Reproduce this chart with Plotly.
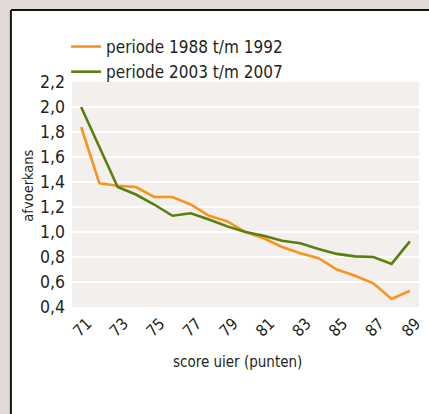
import plotly.graph_objects as go

scores = [str(s) for s in range(71, 90)]
periode_1988_1992 = [1.84, 1.39, 1.37, 1.36, 1.28, 1.28, 1.22, 1.13, 1.085, 1.0,
                     0.95, 0.88, 0.83, 0.79, 0.70, 0.65, 0.59, 0.465, 0.53]
periode_2003_2007 = [2.0, 1.68, 1.36, 1.30, 1.22, 1.13, 1.15, 1.10, 1.045, 1.0,
                     0.97, 0.93, 0.91, 0.865, 0.825, 0.805, 0.80, 0.745, 0.925]
series_names = ["periode 1988 t/m 1992", "periode 2003 t/m 2007"]
tick_labels = [str(s) for s in range(71, 90, 2)]
y_ticks = [0.4, 0.6, 0.8, 1.0, 1.2, 1.4, 1.6, 1.8, 2.0, 2.2]

FONT = "Liberation Sans Narrow, DejaVu Sans Condensed, Arial Narrow, sans-serif"
ORANGE = "#f7941d"
GREEN = "#5a7f0f"
TXT = "#231f20"

W, H = 429, 414
ML, MT = 72, 82
PW, PH = 352, 225
MR = W - ML - PW
MB = H - MT - PH

def px_x(px):
    return (px - ML) / PW

def px_y(py):
    return (MT + PH - py) / PH

fig = go.Figure()
fig.add_trace(go.Scatter(x=scores, y=periode_1988_1992, mode="lines", name=series_names[0],
                         line=dict(color=ORANGE, width=2.6)))
fig.add_trace(go.Scatter(x=scores, y=periode_2003_2007, mode="lines", name=series_names[1],
                         line=dict(color=GREEN, width=2.6)))

BG_OUT = "#e0d9d7"
shapes = [
    dict(type="rect", xref="paper", yref="paper", x0=-0.5, x1=1.5, y0=px_y(9), y1=2.0,
         fillcolor=BG_OUT, line=dict(width=0), layer="below"),
    dict(type="rect", xref="paper", yref="paper", x0=-0.5, x1=px_x(9), y0=-1.0, y1=2.0,
         fillcolor=BG_OUT, line=dict(width=0), layer="below"),
    dict(type="line", xref="paper", yref="paper", x0=px_x(10), x1=1.5, y0=px_y(10), y1=px_y(10),
         line=dict(color="#111111", width=2)),
    dict(type="line", xref="paper", yref="paper", x0=px_x(10), x1=px_x(10), y0=px_y(10), y1=-1.0,
         line=dict(color="#111111", width=2)),
]

annotations = [
    dict(text="afvoerkans", xref="paper", yref="paper", x=px_x(27), y=px_y(186),
         showarrow=False, textangle=-90, font=dict(family=FONT, size=14.5, color=TXT),
         xanchor="center", yanchor="middle"),
    dict(text="score uier (punten)", xref="paper", yref="paper", x=px_x(240), y=px_y(362),
         showarrow=False, font=dict(family=FONT, size=15, color=TXT),
         xanchor="center", yanchor="middle"),
]

fig.update_layout(
    width=W, height=H,
    margin=dict(l=ML, r=MR, t=MT, b=MB, pad=0),
    paper_bgcolor="white",
    plot_bgcolor="#f2efec",
    separators=",.",
    font=dict(family=FONT, size=17.5, color=TXT),
    shapes=shapes,
    annotations=annotations,
    showlegend=True,
    legend=dict(x=px_x(66), y=px_y(29), xanchor="left", yanchor="top",
                bgcolor="rgba(0,0,0,0)", font=dict(family=FONT, size=17, color=TXT),
                tracegroupgap=0, itemwidth=30),
    xaxis=dict(type="category", categoryorder="array", categoryarray=scores,
               range=[-0.5, len(scores) - 0.5], tickmode="array", tickvals=tick_labels,
               ticktext=tick_labels, tickangle=-45, showgrid=False, zeroline=False,
               showline=False, ticks="", ticklabelshift=6, ticklabelstandoff=3,
               tickfont=dict(family=FONT, size=16, color=TXT)),
    yaxis=dict(range=[0.4, 2.2], tickmode="array", tickvals=y_ticks, tickformat=".1f",
               showgrid=True, gridcolor="white", gridwidth=1.5, zeroline=False,
               showline=False, ticks="", ticklabelstandoff=6,
               tickfont=dict(family=FONT, size=17.5, color=TXT)),
)

fig.write_html("out.html", config={"displayModeBar": False},
               post_script="document.body.style.margin='0px';document.body.style.overflow='hidden';")
